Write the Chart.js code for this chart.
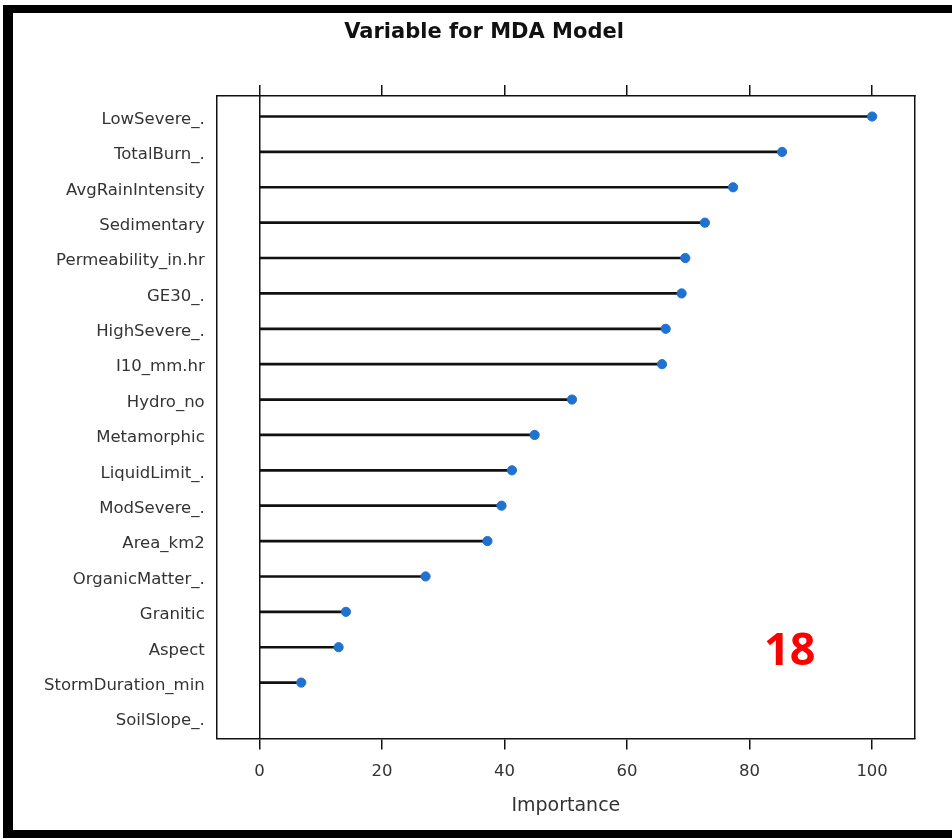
<!DOCTYPE html>
<html>
<head>
<meta charset="utf-8">
<script src="https://cdn.jsdelivr.net/npm/chart.js@4/dist/chart.umd.min.js"></script>
<style>
  html, body { margin: 0; padding: 0; background: #fff; }
  #wrap { position: relative; width: 952px; height: 839px; overflow: hidden; }
  #frame {
    position: absolute; left: 3px; top: 5px; right: -20px; bottom: 1px;
    border-left: 10px solid #000; border-top: 8px solid #000; border-bottom: 8px solid #000;
    pointer-events: none;
  }
  #tag {
    position: absolute; left: 764px; top: 617px;
    font: bold 45px "Open Sans", "DejaVu Sans", sans-serif; color: #ff0000;
  }
</style>
</head>
<body>
<div id="wrap">
  <canvas id="chart" width="952" height="839"></canvas>
  <div id="frame"></div>
  <div id="tag">18</div>
</div>
<script>
// variables, top to bottom
const variables = ['LowSevere_.', 'TotalBurn_.', 'AvgRainIntensity', 'Sedimentary',
  'Permeability_in.hr', 'GE30_.', 'HighSevere_.', 'I10_mm.hr', 'Hydro_no', 'Metamorphic',
  'LiquidLimit_.', 'ModSevere_.', 'Area_km2', 'OrganicMatter_.', 'Granitic', 'Aspect',
  'StormDuration_min', 'SoilSlope_.'];
const importance = [100, 85.3, 77.3, 72.7, 69.5, 68.9, 66.3, 65.7, 51.0, 44.9,
  41.2, 39.5, 37.2, 27.1, 14.1, 12.9, 6.8, null];
const xTicks = [0, 20, 40, 60, 80, 100];

const points = variables.map((v, i) => ({ x: importance[i], y: i + 1 }));
const axisFont = { family: 'DejaVu Sans', size: 16.5 };
const plain = { offset: false, beginAtZero: false, grace: 0 };

new Chart(document.getElementById('chart'), {
  type: 'bar',
  data: {
    datasets: [{
      type: 'scatter',
      data: points,
      backgroundColor: '#1f72cf',
      borderColor: '#1f72cf',
      pointRadius: 4.6,
      pointHoverRadius: 4.6,
      xAxisID: 'x',
      yAxisID: 'y',
      order: 1
    }, {
      type: 'bar',
      data: points,
      backgroundColor: '#111',
      barThickness: 2,
      xAxisID: 'x',
      yAxisID: 'y',
      order: 2
    }]
  },
  options: {
    indexAxis: 'y',
    responsive: false,
    animation: false,
    layout: { padding: { left: 16, right: 0, top: 0, bottom: 0 } },
    plugins: {
      legend: { display: false },
      tooltip: { enabled: false },
      title: {
        display: true,
        text: 'Variable for MDA Model',
        color: '#111',
        font: { family: 'DejaVu Sans', size: 21, weight: 'bold' },
        padding: { top: 20, bottom: 0 }
      }
    },
    scales: {
      x: {
        ...plain,
        type: 'linear',
        position: 'bottom',
        min: -7, max: 107,
        afterBuildTicks: axis => { axis.ticks = xTicks.map(v => ({ value: v })); },
        afterFit: axis => { axis.height = 100.5; },
        grid: {
          offset: false,
          color: c => (c.tick && c.tick.value === 0 ? '#111' : 'rgba(0,0,0,0)'),
          tickColor: '#111',
          lineWidth: 1.5,
          tickLength: 11
        },
        border: { display: true, color: '#111', width: 1.5 },
        ticks: { color: '#333', font: axisFont, padding: 12, maxRotation: 0 },
        title: {
          display: true,
          text: 'Importance',
          color: '#333',
          font: { family: 'DejaVu Sans', size: 19 },
          padding: { top: 0, bottom: 22 }
        }
      },
      xTop: {
        ...plain,
        type: 'linear',
        position: 'top',
        min: -7, max: 107,
        afterBuildTicks: axis => { axis.ticks = xTicks.map(v => ({ value: v })); },
        afterFit: axis => { axis.height = 50.8; },
        grid: { offset: false, drawOnChartArea: false, tickColor: '#111', lineWidth: 1.5, tickLength: 11 },
        border: { display: true, color: '#111', width: 1.5 },
        ticks: { display: false }
      },
      y: {
        ...plain,
        type: 'linear',
        position: 'left',
        reverse: true,
        min: 0.42, max: 18.58,
        afterBuildTicks: axis => { axis.ticks = variables.map((v, i) => ({ value: i + 1 })); },
        afterFit: axis => { axis.width = 200.7; },
        grid: { offset: false, display: false, drawTicks: false },
        border: { display: true, color: '#111', width: 1.5 },
        ticks: {
          color: '#333',
          font: axisFont,
          padding: 12,
          labelOffset: 3,
          callback: v => variables[v - 1]
        }
      },
      yRight: {
        ...plain,
        type: 'linear',
        position: 'right',
        min: 0, max: 1,
        afterFit: axis => { axis.width = 37; },
        grid: { offset: false, display: false, drawTicks: false },
        border: { display: true, color: '#111', width: 1.5 },
        ticks: { display: false }
      }
    }
  }
});
</script>
</body>
</html>
